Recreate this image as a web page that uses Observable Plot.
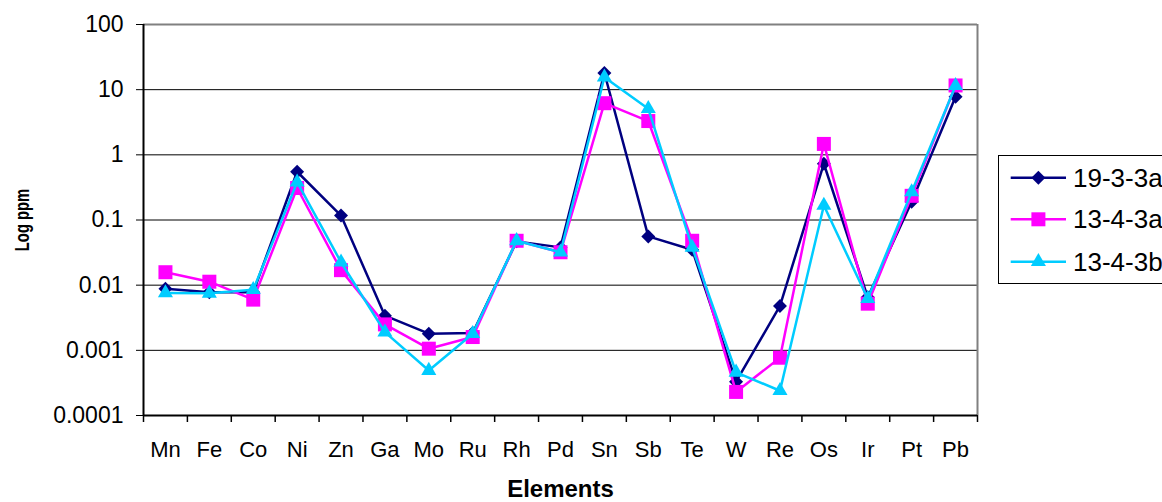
<!DOCTYPE html>
<html>
<head>
<meta charset="utf-8">
<script src="https://cdn.jsdelivr.net/npm/d3@7"></script>
<script src="https://cdn.jsdelivr.net/npm/@observablehq/plot@0.6"></script>
<style>
  html, body { margin: 0; padding: 0; background: #fff; overflow: hidden; }
  #wrap { position: relative; width: 1162px; height: 502px; overflow: hidden; }
  #legend { position: absolute; left: 998px; top: 155px; }
</style>
</head>
<body>
<div id="wrap"></div>
<script>
// Element concentrations (ppm) for three samples
const elements = ["Mn", "Fe", "Co", "Ni", "Zn", "Ga", "Mo", "Ru", "Rh", "Pd",
                  "Sn", "Sb", "Te", "W", "Re", "Os", "Ir", "Pt", "Pb"];
const seriesNames = ["19-3-3a", "13-4-3a", "13-4-3b"];
const s19_3_3a = [0.0088, 0.0078, 0.0078, 0.55, 0.117, 0.0034, 0.0018, 0.00185, 0.047, 0.038,
                  18, 0.056, 0.035, 0.00033, 0.0048, 0.73, 0.0065, 0.19, 7.8];
const s13_4_3a = [0.0158, 0.0113, 0.006, 0.31, 0.017, 0.0025, 0.00106, 0.0016, 0.048, 0.032,
                  6.2, 3.3, 0.048, 0.00023, 0.00077, 1.47, 0.0052, 0.235, 11.6];
const s13_4_3b = [0.0076, 0.0075, 0.0085, 0.38, 0.0225, 0.0019, 0.00049, 0.0018, 0.048, 0.032,
                  15.5, 5.1, 0.038, 0.00046, 0.00024, 0.167, 0.0062, 0.27, 11.5];
const yTicks = [0.0001, 0.001, 0.01, 0.1, 1, 10, 100];
const yTitle = "Log ppm";
const xTitle = "Elements";

const colors = ["#000080", "#FF00FF", "#00CCFF"];
const symbols = ["diamond2", "square", "triangle"];
const radii = [6.3, 7.9, 5.6];

const allSeries = [s19_3_3a, s13_4_3a, s13_4_3b];
const rows = [];
allSeries.forEach((vals, k) => vals.forEach((v, i) =>
  rows.push({series: seriesNames[k], i, element: elements[i], value: v})));

const seriesMarks = [];
seriesNames.forEach((name, k) => {
  const d = rows.filter(r => r.series === name);
  seriesMarks.push(
    Plot.line(d, {x: "i", y: "value", stroke: colors[k], strokeWidth: 2.5}),
    Plot.dot(d, {x: "i", y: "value", symbol: symbols[k], r: radii[k], fill: colors[k], stroke: "none"})
  );
});

const chart = Plot.plot({
  width: 1162,
  height: 502,
  marginLeft: 143,
  marginRight: 185,
  marginTop: 24,
  marginBottom: 87,
  style: {fontFamily: "'Liberation Sans', Arial, sans-serif", fontSize: "22px", background: "#fff", color: "#000"},
  x: {domain: [-0.5, elements.length - 0.5]},
  y: {type: "log", domain: [yTicks[0], yTicks[yTicks.length - 1]]},
  marks: [
    // horizontal gridlines at each decade
    Plot.ruleY(yTicks.slice(1, -1), {stroke: "#000", strokeWidth: 1}),
    // plot-area border: grey top and right, black axes
    Plot.ruleY([yTicks[yTicks.length - 1]], {stroke: "#808080", strokeWidth: 2}),
    Plot.ruleX([elements.length - 0.5], {stroke: "#808080", strokeWidth: 2}),
    Plot.ruleX([-0.5], {stroke: "#000", strokeWidth: 2}),
    Plot.ruleY([yTicks[0]], {stroke: "#000", strokeWidth: 2}),
    Plot.axisY({ticks: yTicks, tickSize: 7, tickPadding: 13, tickFormat: d => String(d),
                fontSize: 23, label: null}),
    Plot.axisX({ticks: d3.range(elements.length), tickSize: 0, tickPadding: 26,
                tickFormat: i => elements[i], fontSize: 22, label: null}),
    Plot.axisX({ticks: d3.range(-0.5, elements.length, 1), tickSize: 7, tickFormat: () => "",
                strokeWidth: 1.5, label: null}),
    Plot.text([xTitle], {frameAnchor: "bottom", dy: 74, text: d => d, fontSize: 24,
                fontWeight: "bold", lineAnchor: "middle"}),
    Plot.text([yTitle], {frameAnchor: "left", dx: -121.5, rotate: -90, text: d => d, fontSize: 20.5,
                fontWeight: "bold", textAnchor: "middle", lineAnchor: "middle"}),
    ...seriesMarks
  ]
});

const wrap = document.getElementById("wrap");
wrap.appendChild(chart);

// the vertical axis title is drawn condensed along its length
for (const node of chart.querySelectorAll("text")) {
  if (node.textContent !== yTitle) continue;
  const tr = node.getAttribute("transform");
  if (tr) {
    node.setAttribute("transform", tr + " scale(0.72,1)");
  } else {
    const x = +node.getAttribute("x") || 0, y = +node.getAttribute("y") || 0;
    node.setAttribute("transform", `translate(${x},${y}) scale(0.72,1) translate(${-x},${-y})`);
  }
}

// legend box on the right
const lg = d3.select(wrap).append("div").attr("id", "legend")
  .append("svg").attr("width", 190).attr("height", 130)
  .style("font-family", "'Liberation Sans', Arial, sans-serif");
lg.append("rect").attr("x", 0.5).attr("y", 0.5).attr("width", 220).attr("height", 128)
  .attr("fill", "#fff").attr("stroke", "#000").attr("stroke-width", 1);
const d3Symbols = {diamond2: d3.symbolDiamond2, square: d3.symbolSquare, triangle: d3.symbolTriangle};
const rowY = [22.7, 64.3, 106.7];
seriesNames.forEach((name, k) => {
  const g = lg.append("g").attr("transform", `translate(0,${rowY[k]})`);
  g.append("line").attr("x1", 12.7).attr("x2", 68).attr("stroke", colors[k]).attr("stroke-width", 2.5);
  g.append("path")
    .attr("transform", "translate(40.4,0)")
    .attr("d", d3.symbol(d3Symbols[symbols[k]], Math.PI * radii[k] * radii[k])())
    .attr("fill", colors[k]);
  g.append("text").attr("x", 75).attr("dominant-baseline", "central")
    .attr("font-size", 26).attr("fill", "#000").text(name);
});
</script>
</body>
</html>
